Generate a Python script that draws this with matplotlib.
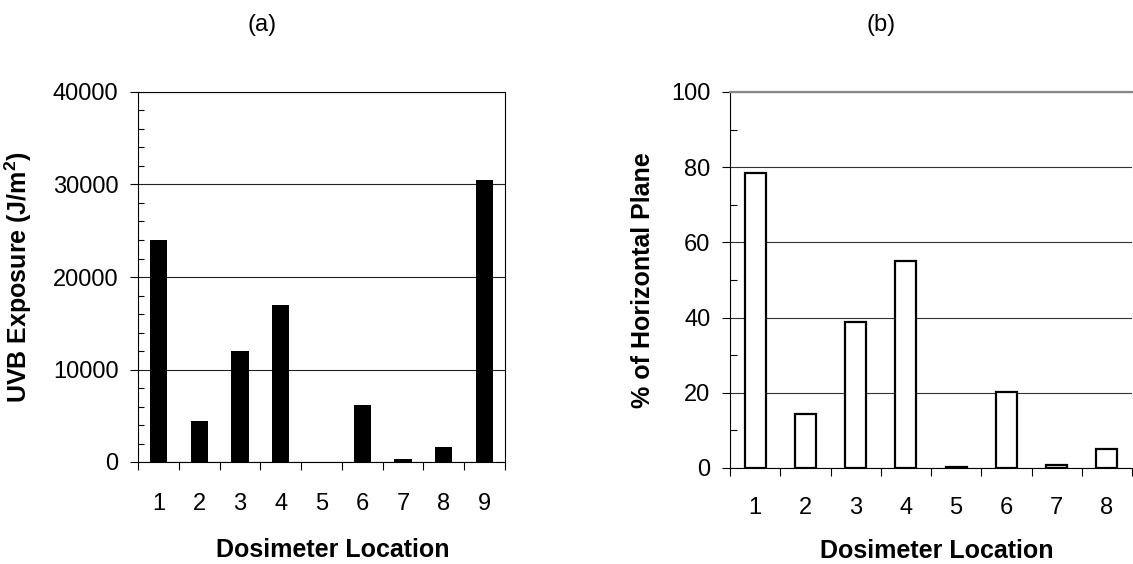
import matplotlib
matplotlib.use("Agg")
import matplotlib.pyplot as plt
from matplotlib.ticker import MultipleLocator, FixedLocator

plt.rcParams['font.family'] = ['Liberation Sans', 'DejaVu Sans']

locs_a = [1, 2, 3, 4, 5, 6, 7, 8, 9]
uvb_exposure = [24000, 4450, 12000, 16950, 0, 6150, 350, 1650, 30500]
locs_b = [1, 2, 3, 4, 5, 6, 7, 8]
pct_horizontal = [78.4, 14.4, 38.9, 55.1, 0.3, 20.1, 0.8, 5.0]

W, H = 1133, 564
fig = plt.figure(figsize=(W / 100, H / 100), dpi=100)

def frac(l, r, t, b):
    return [l / W, 1 - b / H, (r - l) / W, (b - t) / H]

TICK = 17
LAB = 18

# ---- panel (a)
ax1 = fig.add_axes(frac(138, 505, 92, 462))
ax1.bar(locs_a, uvb_exposure, width=0.42, color='black', zorder=3)
ax1.set_xlim(0.5, 9.5)
ax1.set_ylim(0, 40000)
ax1.yaxis.set_major_locator(MultipleLocator(10000))
ax1.yaxis.set_minor_locator(MultipleLocator(2000))
ax1.set_xticks(locs_a)
ax1.set_xticklabels([str(v) for v in locs_a])
ax1.xaxis.set_minor_locator(FixedLocator([x + 0.5 for x in range(0, 10)]))
ax1.tick_params(axis='x', which='major', length=0, pad=22, labelsize=TICK)
ax1.tick_params(axis='x', which='minor', length=6, width=0.8, direction='out')
ax1.tick_params(axis='y', which='major', length=6, width=0.8, direction='out', pad=8, labelsize=TICK)
ax1.tick_params(axis='y', which='minor', length=4.5, width=0.8, direction='in')
ax1.grid(axis='y', which='major', color='#222222', linewidth=0.8, zorder=0)
for s in ax1.spines.values():
    s.set_linewidth(0.8)
    s.set_color('black')
ax1.set_ylabel('UVB Exposure (J/m$^{\\mathregular{2}}$)', fontsize=LAB, fontweight='bold')
ax1.yaxis.set_label_coords(-0.283, 0.5)
ax1.set_xlabel('Dosimeter Location', fontsize=LAB, fontweight='bold')
ax1.xaxis.set_label_coords(0.531, -0.205)

# ---- panel (b)
ax2 = fig.add_axes(frac(730, 1132, 92, 468))
ax2.bar(locs_b, pct_horizontal, width=0.42, facecolor='white', edgecolor='black',
        linewidth=1.6, zorder=3)
ax2.set_xlim(0.5, 8.5)
ax2.set_ylim(0, 100)
ax2.yaxis.set_major_locator(MultipleLocator(20))
ax2.yaxis.set_minor_locator(MultipleLocator(10))
ax2.set_xticks(locs_b)
ax2.set_xticklabels([str(v) for v in locs_b])
ax2.xaxis.set_minor_locator(FixedLocator([x + 0.5 for x in range(0, 9)]))
ax2.tick_params(axis='x', which='major', length=0, pad=21, labelsize=TICK)
ax2.tick_params(axis='x', which='minor', length=6, width=0.8, direction='out')
ax2.tick_params(axis='y', which='major', length=6, width=0.8, direction='out', pad=8, labelsize=TICK)
ax2.tick_params(axis='y', which='minor', length=5, width=0.8, direction='in')
ax2.grid(axis='y', which='major', color='#333333', linewidth=0.8, zorder=0)
ax2.spines['right'].set_visible(False)
ax2.spines['top'].set_color('#888888')
ax2.spines['top'].set_linewidth(1.6)
ax2.spines['left'].set_linewidth(0.8)
ax2.spines['bottom'].set_linewidth(0.8)
ax2.set_ylabel('% of Horizontal Plane', fontsize=LAB, fontweight='bold')
ax2.yaxis.set_label_coords(-0.187, 0.5)
ax2.set_xlabel('Dosimeter Location', fontsize=LAB, fontweight='bold')
ax2.xaxis.set_label_coords(0.515, -0.188)

fig.text(262 / W, 1 - 25 / H, '(a)', fontsize=TICK, ha='center', va='center')
fig.text(881 / W, 1 - 25 / H, '(b)', fontsize=TICK, ha='center', va='center')

fig.savefig('out.png', dpi=100)
